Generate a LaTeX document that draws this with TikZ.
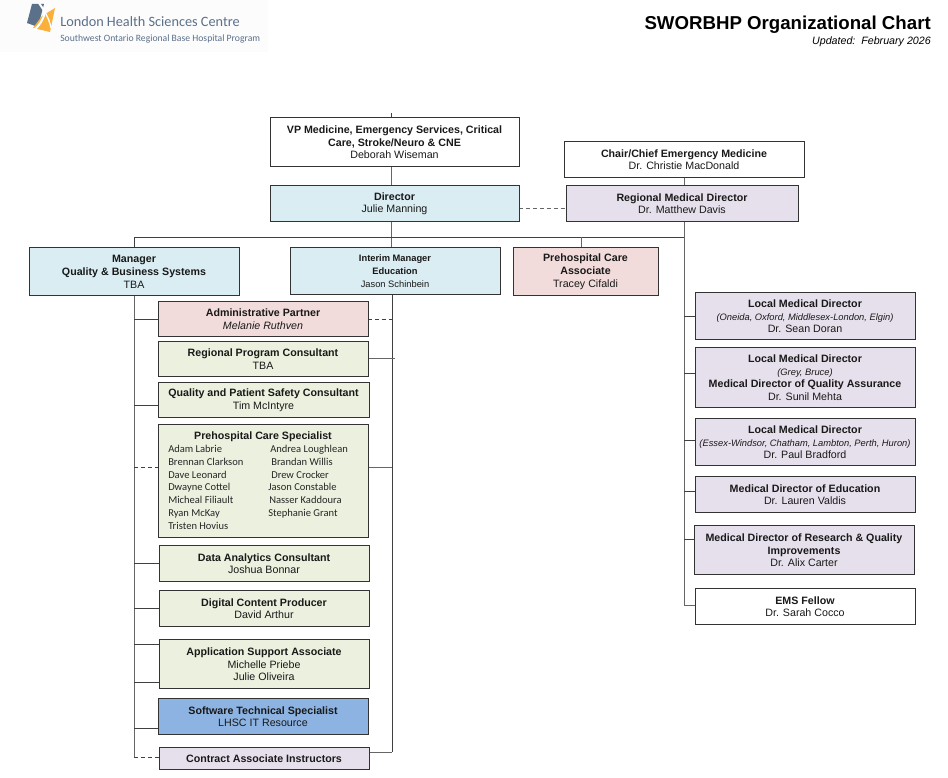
\documentclass[tikz,border=0pt]{standalone}
\usetikzlibrary{backgrounds}
\usepackage{fontspec}
\setmainfont{Liberation Sans}
\newfontfamily\logofont{Carlito}
\definecolor{cblue}{HTML}{DAEDF3}
\definecolor{cpink}{HTML}{F2DCDB}
\definecolor{cgreen}{HTML}{EBF1DE}
\definecolor{cpurple}{HTML}{E6E0EC}
\definecolor{csoft}{HTML}{8DB3E2}
\definecolor{lineg}{HTML}{666666}
\definecolor{logot}{HTML}{5B7089}
\definecolor{logoo}{HTML}{FBB03B}
\tikzset{
  x=0.75pt,y=-0.75pt,
  card/.style={draw=black!80,line width=0.65pt,inner sep=0pt,outer sep=0pt},
  cardtext/.style={inner sep=0pt,outer sep=0pt,align=center,yshift=-0.6pt,font=\fontsize{8}{9.55}\selectfont,text=black!90},
  conn/.style={draw=lineg,line width=0.75pt},
  tie/.style={draw=black!75,line width=0.6pt},
  dconn/.style={draw=black!75,line width=0.6pt,dash pattern=on 3pt off 2.2pt},
}
\newcommand{\cardbox}[7]{% name x1 y1 x2 y2 fill text
  \node[card,fill=#6,minimum width=#4*0.75pt-#2*0.75pt,minimum height=#5*0.75pt-#3*0.75pt,
    label={[cardtext,name=#1t]center:{#7}}] (#1) at ({(#2+#4)/2},{(#3+#5)/2}) {};}
\newcommand{\bb}[1]{\textbf{#1}}
\newcommand{\sm}[1]{{\fontsize{7}{9}\selectfont\itshape #1}}
\newcommand{\tieL}[2]{\draw[tie] (tl |- 0,#2) -- (#1.west |- 0,#2);}
\newcommand{\tieM}[2]{\draw[tie] (tm |- 0,#2) -- (#1.west |- 0,#2);}
\begin{document}
\begin{tikzpicture}
\useasboundingbox (0,0) rectangle (948,777);
% logo
\fill[black!1] (0,0) rectangle (268,52);
\fill[logot] (32,4) -- (44,4) -- (38,27) -- (27,23) -- cycle;
\fill[logoo] (55,8) -- (50,32) -- (33,28) -- (42,16) -- cycle;
\draw[white,line width=1.5pt] (39,3) -- (45,12) -- (50,3);
\draw[white,line width=1.5pt] (45,12) .. controls (43,20) and (40,25) .. (34,30);
\draw[white,line width=1pt] (45,12) .. controls (48,18) and (50,22) .. (51,28);
\node[font=\logofont\fontsize{10.7}{12}\selectfont,text=logot,anchor=west,inner sep=0pt] (logoa) at (60,22) {London Health Sciences Centre};
\node[font=\logofont\fontsize{7.25}{9}\selectfont,text=logot,anchor=west,inner sep=0pt] (logob) at (60,39) {Southwest Ontario Regional Base Hospital Program};
% title
\node[anchor=east,inner sep=0pt,font=\fontsize{14}{16}\selectfont\bfseries] (title) at (931,24.5) {SWORBHP Organizational Chart};
\node[anchor=east,inner sep=0pt,font=\fontsize{8}{10}\selectfont\itshape] (upd) at (931,42) {Updated:\ \ February 2026};
% cards
\cardbox{vp}{270}{117}{519}{166}{white}{\bb{VP Medicine, Emergency Services, Critical}\\\bb{Care, Stroke/Neuro \& CNE}\\Deborah Wiseman}
\cardbox{dir}{270}{185}{519}{221}{cblue}{\bb{Director}\\Julie Manning}
\cardbox{chair}{564}{141}{804}{177}{white}{\bb{Chair/Chief Emergency Medicine}\\Dr. Christie MacDonald}
\cardbox{rmd}{566}{185}{798}{221}{cpurple}{\bb{Regional Medical Director}\\Dr. Matthew Davis}
\cardbox{mgr}{29}{247}{239}{295}{cblue}{\bb{Manager}\\\bb{Quality \& Business Systems}\\TBA}
\cardbox{edu}{290}{247}{500}{294}{cblue}{\fontsize{7}{9.2}\selectfont\bb{Interim Manager}\\\fontsize{7}{9.2}\selectfont\bb{Education}\\\fontsize{7}{9.2}\selectfont Jason Schinbein}
\cardbox{pca}{513}{247}{658}{295}{cpink}{\bb{Prehospital Care}\\\bb{Associate}\\Tracey Cifaldi}
\cardbox{adm}{158}{301}{368}{336}{cpink}{\bb{Administrative Partner}\\\textit{Melanie Ruthven}}
\cardbox{rpc}{158}{341}{368}{376}{cgreen}{\bb{Regional Program Consultant}\\TBA}
\cardbox{qps}{158}{382}{369}{417}{cgreen}{\bb{Quality and Patient Safety Consultant}\\Tim McIntyre}
\node[card,fill=cgreen,minimum width=157.5pt,minimum height=84.75pt] (spec) at (263,480.5) {};
\node[inner sep=0pt,font=\fontsize{8}{10}\selectfont\bfseries,text=black!90] (spect) at (263,436.5) {Prehospital Care Specialist};
\foreach \n/\t/\xx/\yy in {
 sa/Adam Labrie/168/450, sb/Brennan Clarkson/168/463, sc/Dave Leonard/168/476, sd/Dwayne Cottel/168/488,
 se/Micheal Filiault/168/501, sf/Ryan McKay/168/514, sg/Tristen Hovius/168/527,
 ta/Andrea Loughlean/270/450, tb/Brandan Willis/271/463, tc/Drew Crocker/271/476, td/Jason Constable/268/488,
 te/Nasser Kaddoura/269/501, tf/Stephanie Grant/268/514}{
 \node[anchor=west,inner sep=0pt,text height=6pt,text depth=2pt,font=\fontsize{7.9}{9}\selectfont\logofont,text=black!85] (\n) at (\xx,\yy) {\t};}
\cardbox{dac}{159}{545}{369}{581}{cgreen}{\bb{Data Analytics Consultant}\\Joshua Bonnar}
\cardbox{dcp}{159}{590}{369}{626}{cgreen}{\bb{Digital Content Producer}\\David Arthur}
\cardbox{asa}{159}{639}{369}{688}{cgreen}{\bb{Application Support Associate}\\Michelle Priebe\\Julie Oliveira}
\cardbox{sts}{158}{698}{368}{734}{csoft}{\bb{Software Technical Specialist}\\LHSC IT Resource}
\cardbox{cai}{159}{747}{369}{769}{cpurple}{\bb{Contract Associate Instructors}}
\cardbox{lm1}{695}{292}{915}{339}{cpurple}{\bb{Local Medical Director}\\\sm{(Oneida, Oxford, Middlesex-London, Elgin)}\\Dr. Sean Doran}
\cardbox{lm2}{695}{347}{915}{407}{cpurple}{\bb{Local Medical Director}\\\sm{(Grey, Bruce)}\\\bb{Medical Director of Quality Assurance}\\Dr. Sunil Mehta}
\cardbox{lm3}{695}{418}{915}{465}{cpurple}{\bb{Local Medical Director}\\\sm{(Essex-Windsor, Chatham, Lambton, Perth, Huron)}\\Dr. Paul Bradford}
\cardbox{mde}{695}{476}{915}{512}{cpurple}{\bb{Medical Director of Education}\\Dr. Lauren Valdis}
\cardbox{mdr}{694}{525}{914}{574}{cpurple}{\bb{Medical Director of Research \& Quality}\\\bb{Improvements}\\Dr. Alix Carter}
\cardbox{ems}{695}{588}{915}{624}{white}{\bb{EMS Fellow}\\Dr. Sarah Cocco}
% trunks
\coordinate (top) at (391,113);
\coordinate (tl) at (134,237);
\coordinate (tm) at (684,237);
\coordinate (tp) at (581,237);
\coordinate (tr) at (392,294);
\coordinate (lend) at (134,758);
\coordinate (rend) at (392,752);
\coordinate (rstub) at (395,358);
\begin{scope}[on background layer]
\fill[white] (0,0) rectangle (948,777);
\draw[tie] (top) -- (vp.north -| top);
\draw[conn] (vp.south -| top) -- (dir.north -| top);
\draw[conn] (dir.south -| top) -- (edu.north -| top);
\draw[conn] (chair.south -| tm) -- (rmd.north -| tm);
\draw[tie] (tl) -- (tm);
\draw[tie] (tl) -- (mgr.north -| tl);
\draw[conn] (tp) -- (pca.north -| tp);
\draw[dconn,draw=lineg] (dir.east |- 0,208) -- (rmd.west |- 0,208);
\draw[conn] (mgr.south -| tl) -- (lend);
\draw[tie] (edu.south -| tr) -- (rend);
\draw[conn] (rmd.south -| tm) -- (tm |- 0,605) -- (ems.west |- 0,605);
\tieL{adm}{319}\tieL{qps}{405}\tieL{dac}{563}\tieL{dcp}{608}\tieL{asa}{644}\tieL{asa}{682}\tieL{sts}{728}
\draw[dconn] (tl |- 0,467) -- (spec.west |- 0,467);
\draw[dconn] (tl |- 0,757) -- (cai.west |- 0,757);
\draw[dconn] (adm.east |- 0,319) -- (tr |- 0,319);
\draw[conn] (rpc.east |- rstub) -- (rstub);
\draw[conn] (spec.east |- 0,467) -- (tr |- 0,467);
\draw[conn] (cai.east |- rend) -- (rend);
\tieM{lm1}{316}\tieM{lm2}{373}\tieM{lm3}{440}\tieM{mde}{491}\tieM{mdr}{539}
\end{scope}
\end{tikzpicture}
\end{document}
